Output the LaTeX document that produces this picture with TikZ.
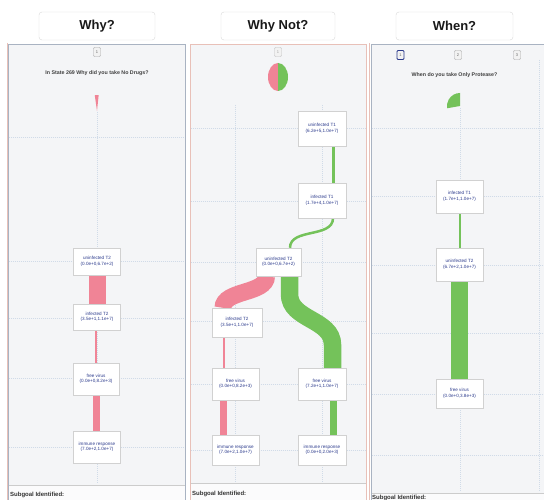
\documentclass[tikz,border=0pt]{standalone}
\usepackage{fontspec}
\setmainfont{Liberation Sans}
\pgfdeclarelayer{back}
\pgfdeclarelayer{mid}
\pgfsetlayers{back,mid,main}
\definecolor{pinkc}{HTML}{F08496}
\definecolor{greenc}{HTML}{74C25A}
\definecolor{navyc}{HTML}{2B3A8C}
\definecolor{panelbg}{HTML}{F4F5F7}
\definecolor{gridc}{HTML}{D0DBE8}
\definecolor{borderc}{HTML}{A9B3C2}
\definecolor{pinkbord}{HTML}{E8C0B8}
\begin{document}
\begin{tikzpicture}[x=1pt,y=-1pt,
 nd/.style={draw=black!18, fill=white, minimum width=47pt, minimum height=30pt, inner sep=0pt, align=center, text=navyc, font=\fontsize{4.6}{5.6}\selectfont},
 tabbox/.style={draw=black!35, fill=black!5, rounded corners=1pt, minimum width=7pt, minimum height=9pt, inner sep=0pt, font=\fontsize{4}{4}\selectfont, text=black!60},
 titlebox/.style={draw=black!15, fill=white, rounded corners=3pt, font=\fontsize{13}{14}\selectfont\bfseries, text=black!90, minimum height=28pt, inner sep=0pt},
 gridl/.style={gridc, line width=0.5pt, dash pattern=on 1pt off 1pt},
 question/.style={font=\fontsize{5.3}{6}\selectfont\bfseries, text=black!75},
 subgoal/.style={font=\fontsize{6}{7}\selectfont\bfseries, text=black!80, anchor=west, inner sep=0pt},
 bord/.style={draw=borderc, line width=0.7pt},
 sep/.style={draw=black!20, line width=0.6pt}
]
\useasboundingbox (0,0) rectangle (544,500);

% ---------- panels ----------
\begin{pgfonlayer}{back}
\fill[white] (0,0) rectangle (544,500);
\fill[panelbg] (8,44) rectangle (185,500);
\fill[panelbg] (190,44) rectangle (366,500);
\fill[panelbg] (371,44) rectangle (544,500);
\draw[pinkbord, line width=0.7pt] (7,43) -- (7,500);
\draw[bord] (8,500) -- (8,44) -- (185,44) -- (185,500);
\draw[bord, draw=pinkbord] (190,500) -- (190,44) -- (366,44) -- (366,500);
\draw[pinkbord, line width=0.7pt] (369.5,43) -- (369.5,500);
\draw[bord] (371,500) -- (371,44) -- (545,44);
% separators and lower strip
\fill[white!60!panelbg] (8.5,485) rectangle (184.5,500);
\fill[white!60!panelbg] (190.5,483) rectangle (365.5,500);
\fill[white!60!panelbg] (371.5,493) rectangle (544,500);
\draw[sep] (8.5,485) -- (184.5,485);
\draw[sep] (190.5,483) -- (365.5,483);
\draw[sep] (371.5,493) -- (544,493);
% grid, left
\foreach \yy in {137,261,318,378,447} \draw[gridl] (8.5,\yy) -- (184.5,\yy);
\draw[gridl] (97,112) -- (97,484);
% grid, middle
\foreach \yy in {128,201,262,321,384,450} \draw[gridl] (190.5,\yy) -- (365.5,\yy);
\draw[gridl] (235.5,105) -- (235.5,482);
\draw[gridl] (322,105) -- (322,482);
% grid, right
\foreach \yy in {128,196,265,333,394,455} \draw[gridl] (371.5,\yy) -- (544,\yy);
\draw[gridl] (460,108) -- (460,492);
\draw[gridl] (539,60) -- (539,492);
\end{pgfonlayer}

% ---------- titles ----------
\node[titlebox, minimum width=116pt] (twhy) at (97,26) {Why?};
\node[titlebox, minimum width=114pt] (twhynot) at (278,26) {Why Not?};
\node[titlebox, minimum width=117pt] (twhen) at (454.5,26) {When?};

% ---------- tabs and questions ----------
\node[tabbox] (tabL) at (97,52) {1};
\node[tabbox, draw=black!25, text=black!35] (tabM) at (278,52) {1};
\node[tabbox, draw=navyc, line width=0.8pt] (tabR1) at (400.5,55) {1};
\node[tabbox] (tabR2) at (458,55) {2};
\node[tabbox] (tabR3) at (517,55) {3};
\node[question] (qL) at (97,73) {In State 269 Why did you take No Drugs?};
\node[question] (qR) at (454.5,75) {When do you take Only Protease?};

% ---------- pies ----------
\fill[pinkc] (97,111) -- ++(262:16) arc[start angle=262, end angle=276, radius=16] -- cycle;
\fill[pinkc] (278,63) arc[start angle=270, end angle=90, x radius=10, y radius=14] -- cycle;
\fill[greenc] (278,63) arc[start angle=270, end angle=450, x radius=10, y radius=14] -- cycle;
\fill[greenc] (460,106) -- ++(270:13) arc[start angle=270, end angle=170, radius=13] -- cycle;

% ---------- left panel nodes ----------
\node[nd, minimum height=27pt] (L1) at (97,261.5) {uninfected T2\\(0.0e+0,6.7e+2)};
\node[nd, minimum height=26pt] (L2) at (97,317) {infected T2\\(3.5e+1,1.1e+7)};
\node[nd, minimum height=32pt, minimum width=46pt] (L3) at (96,379) {free virus\\(0.0e+0,8.2e+3)};
\node[nd, minimum height=32pt] (L4) at (97,447) {immune response\\(7.0e+2,1.0e+7)};

% ---------- middle panel nodes ----------
\node[nd, minimum height=35pt, minimum width=48pt] (M1) at (322,128.5) {uninfected T1\\(6.2e+5,1.0e+7)};
\node[nd, minimum height=35pt, minimum width=48pt] (M2) at (322,200.5) {infected T1\\(1.7e+4,1.0e+7)};
\node[nd, minimum height=28pt, minimum width=45pt] (M3) at (278.5,262) {uninfected T2\\(0.0e+0,6.7e+2)};
\node[nd, minimum height=29pt, minimum width=50pt] (M4) at (237,322.5) {infected T2\\(3.5e+1,1.0e+7)};
\node[nd, minimum height=32pt] (M5) at (235.5,384) {free virus\\(0.0e+0,8.2e+3)};
\node[nd, minimum height=32pt, minimum width=48pt] (M6) at (322,384) {free virus\\(7.2e+1,1.0e+7)};
\node[nd, minimum height=30pt] (M7) at (235.5,450) {immune response\\(7.0e+2,1.0e+7)};
\node[nd, minimum height=30pt, minimum width=48pt] (M8) at (322,450) {immune response\\(0.0e+0,2.0e+3)};

% ---------- right panel nodes ----------
\node[nd, minimum height=33pt] (R1) at (459.5,196.5) {infected T1\\(1.7e+1,1.0e+7)};
\node[nd, minimum height=33pt] (R2) at (459.5,264.5) {uninfected T2\\(6.7e+2,1.0e+7)};
\node[nd, minimum height=29pt] (R3) at (459.5,393.5) {free virus\\(0.0e+0,3.8e+3)};

% ---------- connectors ----------
\begin{pgfonlayer}{mid}
% left
\draw[pinkc, line width=17pt] ([xshift=0.5pt]L1.south) -- ([xshift=0.5pt]L2.north);
\draw[pinkc, line width=2pt] ([xshift=-1pt]L2.south) -- (L3.north);
\draw[pinkc, line width=7pt] ([xshift=0.5pt]L3.south) -- ([xshift=-0.5pt]L4.north);
% middle
\draw[greenc, line width=3.5pt] ([xshift=11.5pt]M1.south) -- ([xshift=11.5pt]M2.north);
\draw[greenc, line width=2.5pt] ([xshift=11pt]M2.south) .. controls +(0,20) and +(0,-20) .. ([xshift=11.5pt]M3.north);
\draw[pinkc, line width=17pt] ([xshift=-12pt]M3.south) .. controls +(0,18) and +(0,-18) .. ([xshift=-14pt]M4.north);
\draw[greenc, line width=17.5pt] ([xshift=11pt]M3.south) -- ++(0,18) .. controls +(0,26) and +(0,-26) .. ([xshift=10.5pt,yshift=23pt]M6.north) -- ([xshift=10.5pt]M6.north);
\draw[pinkc, line width=2.5pt] ([xshift=-13pt]M4.south) -- ([xshift=-11.5pt]M5.north);
\draw[pinkc, line width=7pt] ([xshift=-12pt]M5.south) -- ([xshift=-12pt]M7.north);
\draw[greenc, line width=7pt] ([xshift=11pt]M6.south) -- ([xshift=11pt]M8.north);
% right
\draw[greenc, line width=1.5pt] ([xshift=0.5pt]R1.south) -- ([xshift=0.5pt]R2.north);
\draw[greenc, line width=17pt] (R2.south) -- (R3.north);
\end{pgfonlayer}

% ---------- subgoal labels ----------
\node[subgoal] (sgL) at (10,495) {Subgoal Identified:};
\node[subgoal] (sgM) at (192,494) {Subgoal Identified:};
\node[subgoal] (sgR) at (372,498) {Subgoal Identified:};
\end{tikzpicture}
\end{document}
